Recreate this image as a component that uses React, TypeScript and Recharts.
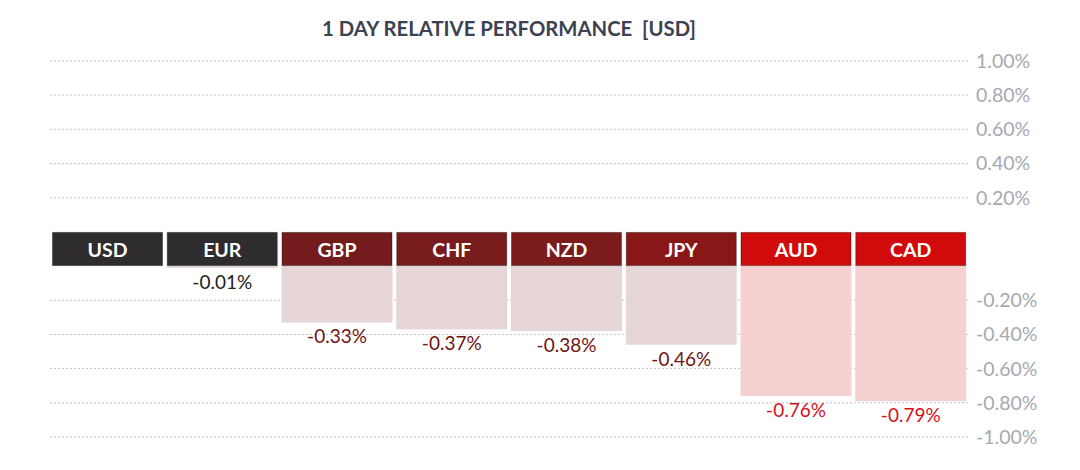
import React from 'react';
import { BarChart, Bar, XAxis, YAxis, CartesianGrid, Cell } from 'recharts';

const currencies = ['USD', 'EUR', 'GBP', 'CHF', 'NZD', 'JPY', 'AUD', 'CAD'];
const changes = [0, -0.01, -0.33, -0.37, -0.38, -0.46, -0.76, -0.79];
const tagColors = ['#2e2c2d', '#2e2c2d', '#741c1d', '#781b1c', '#7c1b1b', '#8a1717', '#d10b0b', '#d10b0b'];
const barColors = ['#e3d2d3', '#e3d2d3', '#e3d2d3', '#e3d2d3', '#e3d2d3', '#e3d2d3', '#f5cccc', '#f5cccc'];
const labelColors = ['#222222', '#222222', '#701414', '#701414', '#701414', '#701414', '#d4101a', '#d4101a'];

// the zero line is drawn as a band of currency tags, 0.20% tall
const BAND = 0.2;
const tickValues = [1, 0.8, 0.6, 0.4, 0.2, -0.4, -0.6, -0.8, -1.0, -1.2];

const data = currencies.map((name, i) => ({ name, value: changes[i] }));

const font = 'Lato, "Open Sans", sans-serif';

function fmtTick(v: number) {
  const real = v < 0 ? v + BAND : v;
  return `${real.toFixed(2)}%`;
}

function ValueShape(props: any) {
  const { x, y, width, height, payload } = props;
  const i = currencies.indexOf(payload.name);
  const v = payload.value;
  const top = Math.min(y, y + height);
  const h = Math.abs(height);
  return (
    <g>
      <rect x={x} y={top} width={width} height={h} fill={barColors[i]} fillOpacity={0.9} />
      {v !== 0 && (
        <text
          x={x + width / 2}
          y={top + h + 13.5}
          textAnchor="middle"
          dominantBaseline="central"
          fill={labelColors[i]}
          fontSize={19}
          fontFamily={font}
        >
          {`${v.toFixed(2)}%`}
        </text>
      )}
    </g>
  );
}

function TagShape(props: any) {
  const { x, y, width, height, payload } = props;
  const i = currencies.indexOf(payload.name);
  const top = Math.min(y, y + height);
  const h = Math.abs(height);
  return (
    <g>
      <rect
        x={x + 0.5}
        y={top + 0.5}
        width={width - 1}
        height={h - 1}
        fill={tagColors[i]}
        stroke="rgba(0,0,0,0.35)"
        strokeWidth={1}
      />
      <text
        x={x + width / 2}
        y={top + h / 2}
        textAnchor="middle"
        dominantBaseline="central"
        fill="#ffffff"
        fontSize={19.5}
        fontWeight={700}
        fontFamily={font}
      >
        {payload.name}
      </text>
    </g>
  );
}

export default function App() {
  return (
    <div style={{ position: 'absolute', left: 0, top: 0, width: 1080, height: 470, background: '#fff' }}>
      <div
        style={{
          position: 'absolute',
          left: 50,
          width: 918,
          top: 16,
          textAlign: 'center',
          fontFamily: font,
          fontWeight: 700,
          fontSize: 20.3,
          color: '#3c4250',
          whiteSpace: 'pre',
        }}
      >
        {'1 DAY RELATIVE PERFORMANCE  [USD]'}
      </div>
      <BarChart
        width={1080}
        height={470}
        data={data}
        margin={{ top: 61, right: 0, bottom: 33, left: 50 }}
        barSize={111}
      >
        <CartesianGrid vertical={false} stroke="#c4c4c4" strokeDasharray="2 2" />
        <XAxis xAxisId="tag" dataKey="name" hide />
        <XAxis xAxisId="val" dataKey="name" hide />
        <YAxis
          orientation="right"
          type="number"
          domain={[-1.2, 1]}
          ticks={tickValues}
          tickFormatter={fmtTick}
          width={112}
          axisLine={false}
          tickLine={false}
          tickSize={0}
          tickMargin={8}
          tick={{ fill: '#a6a9b0', fontSize: 19.5, fontFamily: font, textAnchor: 'start' }}
        />
        <Bar
          xAxisId="val"
          dataKey={(d: any) => [d.value - BAND, -BAND]}
          isAnimationActive={false}
          shape={ValueShape}
        >
          {data.map((d, i) => (
            <Cell key={d.name} fill={barColors[i]} />
          ))}
        </Bar>
        <Bar
          xAxisId="tag"
          dataKey={() => [-BAND, 0]}
          isAnimationActive={false}
          shape={TagShape}
        >
          {data.map((d, i) => (
            <Cell key={d.name} fill={tagColors[i]} />
          ))}
        </Bar>
      </BarChart>
    </div>
  );
}
